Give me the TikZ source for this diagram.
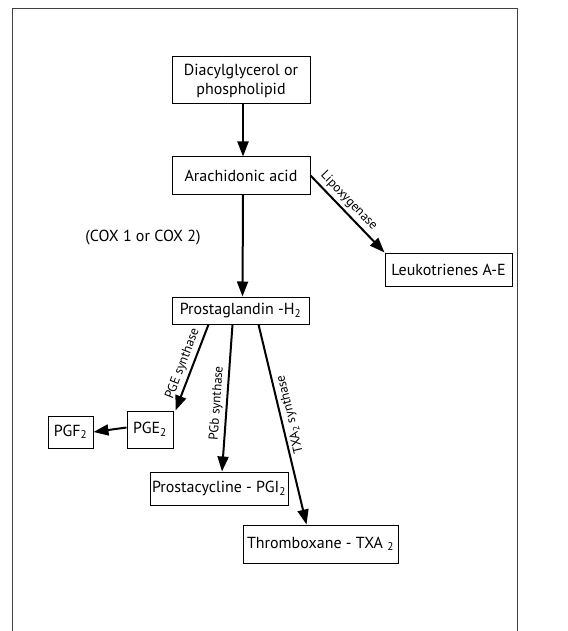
\documentclass[tikz,border=0pt]{standalone}
\usepackage{fontspec}
\setmainfont{PT Sans}
\usetikzlibrary{arrows.meta}

\begin{document}
\begin{tikzpicture}[x=1pt, y=-1pt,
   caja/.style={draw, line width=1pt, inner sep=0pt, align=center, font=\fontsize{16}{19}\selectfont},
   flecha/.style={line width=2pt, -{Triangle[length=15pt,width=11pt]}},
   enzima/.style={inner sep=3pt, font=\fontsize{13}{15}\selectfont}]
   \useasboundingbox (0,0) rectangle (567,631);
   %marco
   \draw[line width=1pt, gray!50!black] (12,631) -- (12,9) -- (517,9) -- (517,631);
   %cajas
   \node[caja, minimum width=138pt, minimum height=47pt] (dag) at (241,80.5) {Diacylglycerol or\\phospholipid};
   \node[caja, minimum width=138pt, minimum height=37pt] (aa) at (241,175.5) {Arachidonic acid};
   \node[caja, minimum width=137pt, minimum height=27pt] (pgh) at (240.5,310.5) {Prostaglandin -H\textsubscript{2}};
   \node[caja, minimum width=127pt, minimum height=33pt] (lt) at (448.5,269.5) {Leukotrienes A-E};
   \node[caja, minimum width=46pt, minimum height=37pt] (pge) at (150,429.5) {PGE\textsubscript{2}};
   \node[caja, minimum width=45pt, minimum height=32pt] (pgf) at (70.5,432) {PGF\textsubscript{2}};
   \node[caja, minimum width=138pt, minimum height=33pt] (pgi) at (219,488.5) {Prostacycline - PGI\textsubscript{2}};
   \node[caja, minimum width=155pt, minimum height=38pt] (txa) at (320.5,544) {Thromboxane - TXA \textsubscript{2}};
   \node[font=\fontsize{16}{19}\selectfont] (cox) at (143,238) {(COX 1 or COX 2)};
   %flechas
   \draw[flecha] ([xshift=2pt]dag.south) -- ([xshift=2pt]aa.north);
   \draw[flecha] ([xshift=2pt]aa.south) -- ([xshift=2pt]pgh.north);
   \draw[flecha] (aa.east) -- node[enzima, sloped, above, pos=.42] {Lipoxygenase} (lt.north west);
   \draw[flecha] ([xshift=-32pt]pgh.south) -- node[enzima, sloped, above, pos=.5] {PGE synthase} ([xshift=2pt]pge.north east);
   \draw[flecha] ([xshift=-8pt]pgh.south) -- node[enzima, sloped, above, pos=.54] {PGb synthase} ([xshift=3pt]pgi.north);
   \draw[flecha] ([xshift=18pt]pgh.south) -- node[enzima, rotate=103.5, anchor=north, pos=.46] {TXA\textsubscript{2} synthase} ([xshift=-14pt]txa.north);
   \draw[flecha] ([yshift=2pt]pge.west) -- (pgf.east);
\end{tikzpicture}
\end{document}
